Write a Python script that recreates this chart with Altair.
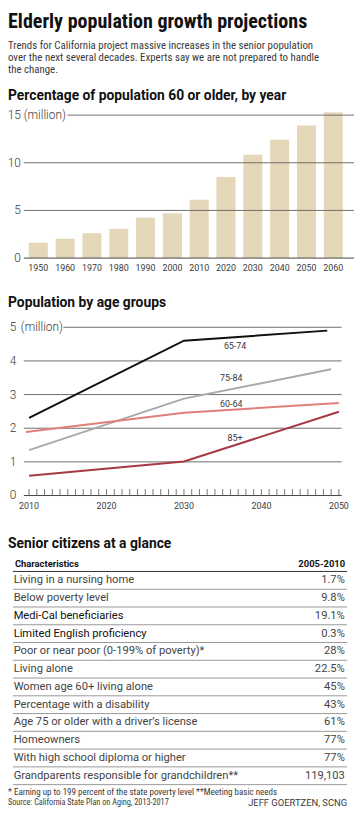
import altair as alt
import pandas as pd

# ---------------- data ----------------
title_text = "Elderly population growth projections"
subtitle_lines = [
    "Trends for California project massive increases in the senior population",
    "over the next several decades. Experts say we are not prepared to handle",
    "the change.",
]
bar_title = "Percentage of population 60 or older, by year"
line_title = "Population by age groups"
table_title = "Senior citizens at a glance"

bar_years = ["1950", "1960", "1970", "1980", "1990", "2000",
             "2010", "2020", "2030", "2040", "2050", "2060"]
bar_values = [1.62, 2.03, 2.61, 3.06, 4.23, 4.71, 6.12, 8.50, 10.84, 12.42, 13.90, 15.31]
bar_ticks = [0, 5, 10, 15]

line_groups = ["65-74", "75-84", "60-64", "85+"]
line_years = [[2010, 2030, 2048.5], [2010, 2030, 2049], [2009.6, 2030, 2050], [2010, 2030, 2050]]
line_values = [[2.31, 4.60, 4.90], [1.35, 2.88, 3.75], [1.89, 2.46, 2.75], [0.59, 1.01, 2.49]]
line_colors = ["#111111", "#a9a9a9", "#df8079", "#a63a44"]
label_years = [2036.6, 2036.1, 2036.1, 2036.6]
label_values = [4.43, 3.48, 2.72, 1.72]
line_ticks = [0, 1, 2, 3, 4, 5]
line_xlabels = [2010, 2020, 2030, 2040, 2050]
line_minor = list(range(2010, 2051))

table_header = ["Characteristics", "2005-2010"]
table_labels = [
    "Living in a nursing home",
    "Below poverty level",
    "Medi-Cal beneficiaries",
    "Limited English proficiency",
    "Poor or near poor (0-199% of poverty)*",
    "Living alone",
    "Women age 60+ living alone",
    "Percentage with a disability",
    "Age 75 or older with a driver\u2019s license",
    "Homeowners",
    "With high school diploma or higher",
    "Grandparents responsible for grandchildren**",
]
table_values = ["1.7%", "9.8%", "19.1%", "0.3%", "28%", "22.5%",
                "45%", "43%", "61%", "77%", "77%", "119,103"]
table_emph = [False, False, True, True, False, False,
              False, False, False, False, False, False]

footnote = "* Earning up to 199 percent of the state poverty level  **Meeting basic needs"
source = "Source: California State Plan on Aging, 2013-2017"
credit = "JEFF GOERTZEN, SCNG"

# ---------------- style ----------------
COND = "Roboto Condensed, Roboto, sans-serif"
SANS = "Roboto, Noto Sans, sans-serif"
BOLD = "Roboto, Noto Sans, sans-serif"
TXT = "#3a3a3a"
GRID = "#6e6e6e"
BAR = "#e4d8b9"
W, H = 350, 806

# ---------------- headings ----------------
head_df = pd.DataFrame({"t": [title_text]})
title = alt.Chart(head_df).mark_text(
    font=COND, fontSize=20.3, fontWeight="bold", color="#111", align="left", baseline="alphabetic"
).encode(text="t:N", x=alt.value(0), y=alt.value(16))

sub_df = pd.DataFrame({"t": subtitle_lines, "i": list(range(len(subtitle_lines)))})
subtitle = alt.Chart(sub_df).mark_text(
    font=COND, fontSize=11, color=TXT, align="left", baseline="alphabetic"
).encode(
    text="t:N", x=alt.value(0),
    y=alt.Y("i:Q", scale=alt.Scale(domain=[0, 2], range=[37, 61]), axis=None),
)

sec_df = pd.DataFrame({"t": [bar_title, line_title, table_title], "i": [0, 1, 2]})
sections = alt.Chart(sec_df).mark_text(
    font=BOLD, fontSize=14, fontWeight="bold", color="#111", align="left", baseline="alphabetic"
).encode(
    text="t:N", x=alt.value(0),
    y=alt.Y("i:Q", scale=alt.Scale(domain=[0, 1, 2], range=[88, 298, 541.5]), axis=None),
)

# ---------------- bar chart ----------------
bar_df = pd.DataFrame({"year": bar_years, "value": bar_values})
xb = alt.X("year:N", sort=bar_years,
           scale=alt.Scale(range=[17.1, 342.6], paddingInner=0.29, paddingOuter=0.145), axis=None)
yb_scale = alt.Scale(domain=[0, 15], range=[248.3, 103.7], nice=False, zero=True)

bars = alt.Chart(bar_df).mark_bar(color=BAR).encode(
    x=xb, y=alt.Y("value:Q", scale=yb_scale, axis=None)
)
bar_xlab = alt.Chart(bar_df).mark_text(
    font=SANS, fontSize=9, color=TXT, baseline="middle"
).encode(x=xb, y=alt.value(258), text="year:N")

bt_df = pd.DataFrame({"v": bar_ticks})
bar_grid = alt.Chart(bt_df).transform_filter("datum.v > 0 && datum.v < 15").mark_rule(
    color=GRID, strokeWidth=1
).encode(y=alt.Y("v:Q", scale=yb_scale, axis=None), x=alt.value(16), x2=alt.value(350))
bar_grid_top = alt.Chart(bt_df).transform_filter("datum.v == 15").mark_rule(
    color=GRID, strokeWidth=1
).encode(y=alt.Y("v:Q", scale=yb_scale, axis=None), x=alt.value(60), x2=alt.value(350))
bar_base = alt.Chart(bt_df).transform_filter("datum.v == 0").mark_rule(
    color="#444", strokeWidth=1
).encode(y=alt.Y("v:Q", scale=yb_scale, axis=None), x=alt.value(16), x2=alt.value(350))
bar_ylab = alt.Chart(bt_df).mark_text(
    font=SANS, fontSize=12, fontWeight=300, color=TXT, align="right", baseline="middle"
).encode(y=alt.Y("v:Q", scale=yb_scale, axis=None), x=alt.value(13), text="v:N")
bar_unit = alt.Chart(bt_df).transform_filter("datum.v == 15").mark_text(
    font=SANS, fontSize=12, fontWeight=300, color=TXT, align="left", baseline="middle", text="(million)"
).encode(y=alt.Y("v:Q", scale=yb_scale, axis=None), x=alt.value(16))

# ---------------- line chart ----------------
rows = []
for g, ys, vs in zip(line_groups, line_years, line_values):
    for yv, vv in zip(ys, vs):
        rows.append({"group": g, "year": yv, "value": vv})
line_df = pd.DataFrame(rows)
xl_scale = alt.Scale(domain=[2010, 2050], range=[21.3, 334.7], nice=False, zero=False)
yl_scale = alt.Scale(domain=[0, 5], range=[488.5, 318.3], nice=False, zero=True)
col_scale = alt.Scale(domain=line_groups, range=line_colors)

lt_df = pd.DataFrame({"v": line_ticks})
line_grid = alt.Chart(lt_df).transform_filter("datum.v > 0 && datum.v < 5").mark_rule(
    color=GRID, strokeWidth=1
).encode(y=alt.Y("v:Q", scale=yl_scale, axis=None), x=alt.value(16), x2=alt.value(337.5))
line_grid_top = alt.Chart(lt_df).transform_filter("datum.v == 5").mark_rule(
    color=GRID, strokeWidth=1
).encode(y=alt.Y("v:Q", scale=yl_scale, axis=None), x=alt.value(56), x2=alt.value(337.5))
line_base = alt.Chart(lt_df).transform_filter("datum.v == 0").mark_rule(
    color="#444", strokeWidth=1
).encode(y=alt.Y("v:Q", scale=yl_scale, axis=None), x=alt.value(16), x2=alt.value(337.5))
line_ylab = alt.Chart(lt_df).mark_text(
    font=SANS, fontSize=12, fontWeight=300, color=TXT, align="right", baseline="middle"
).encode(y=alt.Y("v:Q", scale=yl_scale, axis=None), x=alt.value(8.5), text="v:N")
line_unit = alt.Chart(lt_df).transform_filter("datum.v == 5").mark_text(
    font=SANS, fontSize=12, fontWeight=300, color=TXT, align="left", baseline="middle", text="(million)"
).encode(y=alt.Y("v:Q", scale=yl_scale, axis=None), x=alt.value(13))

minor_df = pd.DataFrame({"year": line_minor})
line_minor_ticks = alt.Chart(minor_df).mark_rule(color="#555", strokeWidth=0.8).encode(
    x=alt.X("year:Q", scale=xl_scale, axis=None),
    y=alt.Y(datum=0, scale=yl_scale, axis=None),
    y2=alt.Y2(datum=0.19),
)
xlab_df = pd.DataFrame({"year": line_xlabels})
line_xlab = alt.Chart(xlab_df).mark_text(
    font=SANS, fontSize=9, color=TXT, baseline="middle"
).encode(x=alt.X("year:Q", scale=xl_scale, axis=None), y=alt.value(499), text="year:N")

lines = alt.Chart(line_df).mark_line(strokeWidth=2).encode(
    x=alt.X("year:Q", scale=xl_scale, axis=None),
    y=alt.Y("value:Q", scale=yl_scale, axis=None),
    color=alt.Color("group:N", scale=col_scale, legend=None),
    detail="group:N",
)
lab_df = pd.DataFrame({"group": line_groups, "year": label_years, "value": label_values})
line_labels = alt.Chart(lab_df).mark_text(
    font=SANS, fontSize=9, color=TXT, baseline="middle", align="center"
).encode(
    x=alt.X("year:Q", scale=xl_scale, axis=None),
    y=alt.Y("value:Q", scale=yl_scale, axis=None),
    text="group:N",
)

# ---------------- table ----------------
tab_df = pd.DataFrame({
    "row": list(range(len(table_labels))),
    "label": table_labels,
    "value": table_values,
    "emph": table_emph,
})
n = len(table_labels)
yt_scale = alt.Scale(domain=[0, n - 1], range=[574.3, 574.3 + (n - 1) * 17.97], nice=False, zero=False)

hdr_df = pd.DataFrame({"t": table_header, "side": ["l", "r"]})
hdr_left = alt.Chart(hdr_df).transform_filter("datum.side == 'l'").mark_text(
    font=BOLD, fontSize=9.5, fontWeight="bold", color="#111", align="left", baseline="middle"
).encode(text="t:N", x=alt.value(7), y=alt.value(558))
hdr_right = alt.Chart(hdr_df).transform_filter("datum.side == 'r'").mark_text(
    font=BOLD, fontSize=9.5, fontWeight="bold", color="#111", align="right", baseline="middle"
).encode(text="t:N", x=alt.value(341), y=alt.value(558))
hdr_rule = alt.Chart(pd.DataFrame({"r": [-0.5]})).mark_rule(color="#333", strokeWidth=1).encode(
    y=alt.Y("r:Q", scale=yt_scale, axis=None), x=alt.value(5), x2=alt.value(343)
)
sep_rules = alt.Chart(tab_df).transform_calculate(r="datum.row + 0.5").mark_rule(
    color="#999999", strokeWidth=1
).encode(y=alt.Y("r:Q", scale=yt_scale, axis=None), x=alt.value(5), x2=alt.value(343))
row_labels = alt.Chart(tab_df).mark_text(
    font=SANS, fontSize=11.3, align="left", baseline="middle"
).encode(
    y=alt.Y("row:Q", scale=yt_scale, axis=None), x=alt.value(5.7), text="label:N",
    color=alt.Color("emph:N", scale=alt.Scale(domain=[False, True], range=["#444444", "#111111"]), legend=None),
)
row_values = alt.Chart(tab_df).mark_text(
    font=SANS, fontSize=11.3, color="#444", align="right", baseline="middle"
).encode(y=alt.Y("row:Q", scale=yt_scale, axis=None), x=alt.value(340.7), text="value:N")

foot_df = pd.DataFrame({"t": [footnote]})
foot = alt.Chart(foot_df).mark_text(
    font=COND, fontSize=9.1, color=TXT, align="left", baseline="middle"
).encode(text="t:N", x=alt.value(0), y=alt.value(788))
src = alt.Chart(pd.DataFrame({"t": [source]})).mark_text(
    font=COND, fontSize=8.3, color=TXT, align="left", baseline="middle"
).encode(text="t:N", x=alt.value(0), y=alt.value(800))
cred = alt.Chart(pd.DataFrame({"t": [credit]})).mark_text(
    font=SANS, fontSize=9.5, color=TXT, align="right", baseline="middle"
).encode(text="t:N", x=alt.value(343), y=alt.value(800))

chart = alt.layer(
    title, subtitle, sections,
    bars, bar_grid, bar_grid_top, bar_base, bar_ylab, bar_unit, bar_xlab,
    line_grid, line_grid_top, line_base, line_minor_ticks, line_ylab, line_unit, line_xlab,
    lines, line_labels,
    hdr_left, hdr_right, hdr_rule, sep_rules, row_labels, row_values,
    foot, src, cred,
).resolve_scale(x="independent", y="independent", color="independent").properties(
    width=W, height=H, padding=0, autosize=alt.AutoSizeParams(type="none"),
).configure_view(stroke=None)

chart.save("out.html", embed_options={"renderer": "svg", "actions": False})
